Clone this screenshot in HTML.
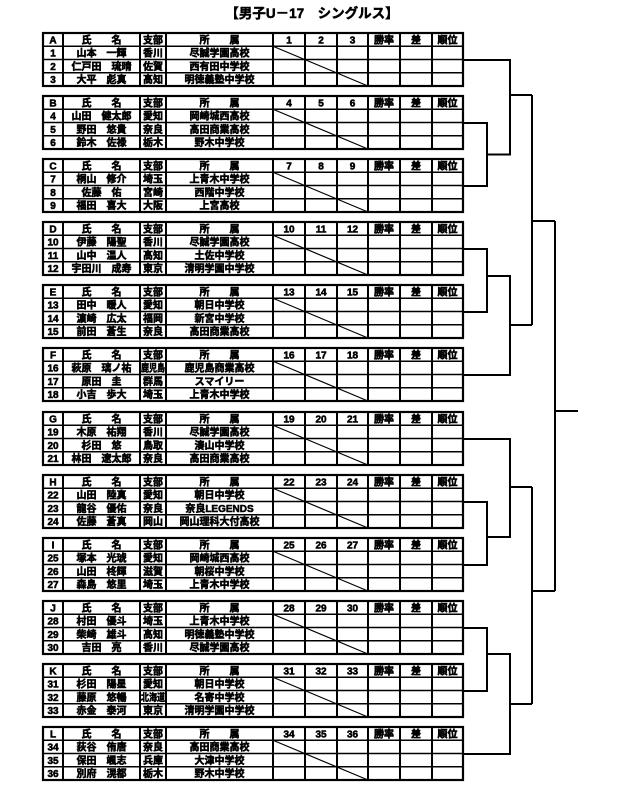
<!DOCTYPE html>
<html><head><meta charset="utf-8"><style>
html,body{margin:0;padding:0;background:#fff;}
svg{display:block;}
text{font-family:"Liberation Sans","Noto Sans CJK JP",sans-serif;font-weight:bold;font-size:10px;fill:#000;stroke:#000;stroke-width:0.55px;text-anchor:middle;}
</style></head><body>
<svg width="630" height="792" viewBox="0 0 630 792" xmlns="http://www.w3.org/2000/svg">
<text x="312" y="18" style="font-size:13.5px;stroke-width:0.5px">【男子U－17　シングルス】</text>
<defs>
<g id="grid">
<rect x="43" y="0" width="420" height="53" fill="none" stroke="#000" stroke-width="2.2"/>
<g stroke="#000" stroke-width="1.6">
<line x1="43" y1="13.25" x2="463" y2="13.25"/><line x1="43" y1="26.5" x2="463" y2="26.5"/><line x1="43" y1="39.75" x2="463" y2="39.75"/>
</g>
<g stroke="#000" stroke-width="2">
<line x1="63" y1="0" x2="63" y2="53"/><line x1="140" y1="0" x2="140" y2="53"/><line x1="166" y1="0" x2="166" y2="53"/><line x1="273" y1="0" x2="273" y2="53"/><line x1="305" y1="0" x2="305" y2="53"/><line x1="337" y1="0" x2="337" y2="53"/><line x1="368" y1="0" x2="368" y2="53"/><line x1="400" y1="0" x2="400" y2="53"/><line x1="432" y1="0" x2="432" y2="53"/>
</g>
<line x1="273" y1="13.25" x2="368" y2="53" stroke="#000" stroke-width="1.2"/>
</g>
</defs>
<g transform="translate(0,33)"><use href="#grid"/>
<text x="53" y="10.5">A</text><text x="101.5" y="10.5">氏　　名</text><text x="153" y="10.5">支部</text><text x="219.5" y="10.5">所　　属</text><text x="289" y="10.5">1</text><text x="321" y="10.5">2</text><text x="352.5" y="10.5">3</text><text x="384" y="10.5">勝率</text><text x="416" y="10.5">差</text><text x="447.5" y="10.5">順位</text>
<text x="53" y="23.7">1</text><text x="101.5" y="23.7">山本　一輝</text><text x="153" y="23.7">香川</text><text x="219.5" y="23.7">尽誠学園高校</text>
<text x="53" y="37">2</text><text x="101.5" y="37">仁戸田　琉晴</text><text x="153" y="37">佐賀</text><text x="219.5" y="37">西有田中学校</text>
<text x="53" y="50.2">3</text><text x="101.5" y="50.2">大平　彪真</text><text x="153" y="50.2">高知</text><text x="219.5" y="50.2">明徳義塾中学校</text>
</g>
<g transform="translate(0,96)"><use href="#grid"/>
<text x="53" y="10.5">B</text><text x="101.5" y="10.5">氏　　名</text><text x="153" y="10.5">支部</text><text x="219.5" y="10.5">所　　属</text><text x="289" y="10.5">4</text><text x="321" y="10.5">5</text><text x="352.5" y="10.5">6</text><text x="384" y="10.5">勝率</text><text x="416" y="10.5">差</text><text x="447.5" y="10.5">順位</text>
<text x="53" y="23.7">4</text><text x="101.5" y="23.7">山田　健太郎</text><text x="153" y="23.7">愛知</text><text x="219.5" y="23.7">岡崎城西高校</text>
<text x="53" y="37">5</text><text x="101.5" y="37">野田　悠貴</text><text x="153" y="37">奈良</text><text x="219.5" y="37">高田商業高校</text>
<text x="53" y="50.2">6</text><text x="101.5" y="50.2">鈴木　佐禄</text><text x="153" y="50.2">栃木</text><text x="219.5" y="50.2">野木中学校</text>
</g>
<g transform="translate(0,159)"><use href="#grid"/>
<text x="53" y="10.5">C</text><text x="101.5" y="10.5">氏　　名</text><text x="153" y="10.5">支部</text><text x="219.5" y="10.5">所　　属</text><text x="289" y="10.5">7</text><text x="321" y="10.5">8</text><text x="352.5" y="10.5">9</text><text x="384" y="10.5">勝率</text><text x="416" y="10.5">差</text><text x="447.5" y="10.5">順位</text>
<text x="53" y="23.7">7</text><text x="101.5" y="23.7">桐山　修介</text><text x="153" y="23.7">埼玉</text><text x="219.5" y="23.7">上青木中学校</text>
<text x="53" y="37">8</text><text x="101.5" y="37">佐藤　佑</text><text x="153" y="37">宮崎</text><text x="219.5" y="37">西階中学校</text>
<text x="53" y="50.2">9</text><text x="101.5" y="50.2">福田　喜大</text><text x="153" y="50.2">大阪</text><text x="219.5" y="50.2">上宮高校</text>
</g>
<g transform="translate(0,222)"><use href="#grid"/>
<text x="53" y="10.5">D</text><text x="101.5" y="10.5">氏　　名</text><text x="153" y="10.5">支部</text><text x="219.5" y="10.5">所　　属</text><text x="289" y="10.5">10</text><text x="321" y="10.5">11</text><text x="352.5" y="10.5">12</text><text x="384" y="10.5">勝率</text><text x="416" y="10.5">差</text><text x="447.5" y="10.5">順位</text>
<text x="53" y="23.7">10</text><text x="101.5" y="23.7">伊藤　陽聖</text><text x="153" y="23.7">香川</text><text x="219.5" y="23.7">尽誠学園高校</text>
<text x="53" y="37">11</text><text x="101.5" y="37">山中　温人</text><text x="153" y="37">高知</text><text x="219.5" y="37">土佐中学校</text>
<text x="53" y="50.2">12</text><text x="101.5" y="50.2">宇田川　成寿</text><text x="153" y="50.2">東京</text><text x="219.5" y="50.2">清明学園中学校</text>
</g>
<g transform="translate(0,285)"><use href="#grid"/>
<text x="53" y="10.5">E</text><text x="101.5" y="10.5">氏　　名</text><text x="153" y="10.5">支部</text><text x="219.5" y="10.5">所　　属</text><text x="289" y="10.5">13</text><text x="321" y="10.5">14</text><text x="352.5" y="10.5">15</text><text x="384" y="10.5">勝率</text><text x="416" y="10.5">差</text><text x="447.5" y="10.5">順位</text>
<text x="53" y="23.7">13</text><text x="101.5" y="23.7">田中　暖人</text><text x="153" y="23.7">愛知</text><text x="219.5" y="23.7">朝日中学校</text>
<text x="53" y="37">14</text><text x="101.5" y="37">濵崎　広太</text><text x="153" y="37">福岡</text><text x="219.5" y="37">新宮中学校</text>
<text x="53" y="50.2">15</text><text x="101.5" y="50.2">前田　蒼生</text><text x="153" y="50.2">奈良</text><text x="219.5" y="50.2">高田商業高校</text>
</g>
<g transform="translate(0,348)"><use href="#grid"/>
<text x="53" y="10.5">F</text><text x="101.5" y="10.5">氏　　名</text><text x="153" y="10.5">支部</text><text x="219.5" y="10.5">所　　属</text><text x="289" y="10.5">16</text><text x="321" y="10.5">17</text><text x="352.5" y="10.5">18</text><text x="384" y="10.5">勝率</text><text x="416" y="10.5">差</text><text x="447.5" y="10.5">順位</text>
<text x="53" y="23.7">16</text><text x="101.5" y="23.7">萩原　璃ノ祐</text><text x="153" y="23.7" textLength="24" lengthAdjust="spacingAndGlyphs">鹿児島</text><text x="219.5" y="23.7">鹿児島商業高校</text>
<text x="53" y="37">17</text><text x="101.5" y="37">原田　圭</text><text x="153" y="37">群馬</text><text x="219.5" y="37">スマイリー</text>
<text x="53" y="50.2">18</text><text x="101.5" y="50.2">小吉　歩大</text><text x="153" y="50.2">埼玉</text><text x="219.5" y="50.2">上青木中学校</text>
</g>
<g transform="translate(0,412)"><use href="#grid"/>
<text x="53" y="10.5">G</text><text x="101.5" y="10.5">氏　　名</text><text x="153" y="10.5">支部</text><text x="219.5" y="10.5">所　　属</text><text x="289" y="10.5">19</text><text x="321" y="10.5">20</text><text x="352.5" y="10.5">21</text><text x="384" y="10.5">勝率</text><text x="416" y="10.5">差</text><text x="447.5" y="10.5">順位</text>
<text x="53" y="23.7">19</text><text x="101.5" y="23.7">木原　祐翔</text><text x="153" y="23.7">香川</text><text x="219.5" y="23.7">尽誠学園高校</text>
<text x="53" y="37">20</text><text x="101.5" y="37">杉田　悠</text><text x="153" y="37">鳥取</text><text x="219.5" y="37">湊山中学校</text>
<text x="53" y="50.2">21</text><text x="101.5" y="50.2">林田　遼太郎</text><text x="153" y="50.2">奈良</text><text x="219.5" y="50.2">高田商業高校</text>
</g>
<g transform="translate(0,475)"><use href="#grid"/>
<text x="53" y="10.5">H</text><text x="101.5" y="10.5">氏　　名</text><text x="153" y="10.5">支部</text><text x="219.5" y="10.5">所　　属</text><text x="289" y="10.5">22</text><text x="321" y="10.5">23</text><text x="352.5" y="10.5">24</text><text x="384" y="10.5">勝率</text><text x="416" y="10.5">差</text><text x="447.5" y="10.5">順位</text>
<text x="53" y="23.7">22</text><text x="101.5" y="23.7">山田　陸真</text><text x="153" y="23.7">愛知</text><text x="219.5" y="23.7">朝日中学校</text>
<text x="53" y="37">23</text><text x="101.5" y="37">龍谷　優佑</text><text x="153" y="37">奈良</text><text x="219.5" y="37">奈良LEGENDS</text>
<text x="53" y="50.2">24</text><text x="101.5" y="50.2">佐藤　蒼真</text><text x="153" y="50.2">岡山</text><text x="219.5" y="50.2">岡山理科大付高校</text>
</g>
<g transform="translate(0,538)"><use href="#grid"/>
<text x="53" y="10.5">I</text><text x="101.5" y="10.5">氏　　名</text><text x="153" y="10.5">支部</text><text x="219.5" y="10.5">所　　属</text><text x="289" y="10.5">25</text><text x="321" y="10.5">26</text><text x="352.5" y="10.5">27</text><text x="384" y="10.5">勝率</text><text x="416" y="10.5">差</text><text x="447.5" y="10.5">順位</text>
<text x="53" y="23.7">25</text><text x="101.5" y="23.7">塚本　光琥</text><text x="153" y="23.7">愛知</text><text x="219.5" y="23.7">岡崎城西高校</text>
<text x="53" y="37">26</text><text x="101.5" y="37">山田　柊輝</text><text x="153" y="37">滋賀</text><text x="219.5" y="37">朝桜中学校</text>
<text x="53" y="50.2">27</text><text x="101.5" y="50.2">森島　悠里</text><text x="153" y="50.2">埼玉</text><text x="219.5" y="50.2">上青木中学校</text>
</g>
<g transform="translate(0,601)"><use href="#grid"/>
<text x="53" y="10.5">J</text><text x="101.5" y="10.5">氏　　名</text><text x="153" y="10.5">支部</text><text x="219.5" y="10.5">所　　属</text><text x="289" y="10.5">28</text><text x="321" y="10.5">29</text><text x="352.5" y="10.5">30</text><text x="384" y="10.5">勝率</text><text x="416" y="10.5">差</text><text x="447.5" y="10.5">順位</text>
<text x="53" y="23.7">28</text><text x="101.5" y="23.7">村田　優斗</text><text x="153" y="23.7">埼玉</text><text x="219.5" y="23.7">上青木中学校</text>
<text x="53" y="37">29</text><text x="101.5" y="37">柴崎　雄斗</text><text x="153" y="37">高知</text><text x="219.5" y="37">明徳義塾中学校</text>
<text x="53" y="50.2">30</text><text x="101.5" y="50.2">吉田　亮</text><text x="153" y="50.2">香川</text><text x="219.5" y="50.2">尽誠学園高校</text>
</g>
<g transform="translate(0,664)"><use href="#grid"/>
<text x="53" y="10.5">K</text><text x="101.5" y="10.5">氏　　名</text><text x="153" y="10.5">支部</text><text x="219.5" y="10.5">所　　属</text><text x="289" y="10.5">31</text><text x="321" y="10.5">32</text><text x="352.5" y="10.5">33</text><text x="384" y="10.5">勝率</text><text x="416" y="10.5">差</text><text x="447.5" y="10.5">順位</text>
<text x="53" y="23.7">31</text><text x="101.5" y="23.7">杉田　陽星</text><text x="153" y="23.7">愛知</text><text x="219.5" y="23.7">朝日中学校</text>
<text x="53" y="37">32</text><text x="101.5" y="37">藤原　悠暢</text><text x="153" y="37" textLength="24" lengthAdjust="spacingAndGlyphs">北海道</text><text x="219.5" y="37">名寄中学校</text>
<text x="53" y="50.2">33</text><text x="101.5" y="50.2">赤金　泰河</text><text x="153" y="50.2">東京</text><text x="219.5" y="50.2">清明学園中学校</text>
</g>
<g transform="translate(0,727)"><use href="#grid"/>
<text x="53" y="10.5">L</text><text x="101.5" y="10.5">氏　　名</text><text x="153" y="10.5">支部</text><text x="219.5" y="10.5">所　　属</text><text x="289" y="10.5">34</text><text x="321" y="10.5">35</text><text x="352.5" y="10.5">36</text><text x="384" y="10.5">勝率</text><text x="416" y="10.5">差</text><text x="447.5" y="10.5">順位</text>
<text x="53" y="23.7">34</text><text x="101.5" y="23.7">荻谷　侑唐</text><text x="153" y="23.7">奈良</text><text x="219.5" y="23.7">高田商業高校</text>
<text x="53" y="37">35</text><text x="101.5" y="37">保田　颯志</text><text x="153" y="37">兵庫</text><text x="219.5" y="37">大津中学校</text>
<text x="53" y="50.2">36</text><text x="101.5" y="50.2">別府　滉都</text><text x="153" y="50.2">栃木</text><text x="219.5" y="50.2">野木中学校</text>
</g>
<g stroke="#000" stroke-width="2" fill="none">
<polyline points="463,60 510,60 510,154.5 487,154.5"/>
<polyline points="463,123 487,123 487,186 463,186"/>
<line x1="510" y1="95" x2="532" y2="95"/>
<polyline points="463,249 487,249 487,312 463,312"/>
<polyline points="487,276 510,276 510,375 463,375"/>
<line x1="510" y1="325" x2="532" y2="325"/>
<polyline points="532,95 532,325"/>
<line x1="532" y1="221" x2="555" y2="221"/>
<polyline points="463,439 510,439 510,537 487,537"/>
<polyline points="463,502 487,502 487,565 463,565"/>
<line x1="510" y1="487" x2="532" y2="487"/>
<polyline points="463,628 487,628 487,691 463,691"/>
<polyline points="487,654 510,654 510,754 463,754"/>
<line x1="510" y1="704" x2="532" y2="704"/>
<polyline points="532,487 532,704"/>
<line x1="532" y1="591" x2="555" y2="591"/>
<polyline points="555,221 555,591"/>
<line x1="555" y1="411" x2="578" y2="411"/>
</g>
</svg>
</body></html>
